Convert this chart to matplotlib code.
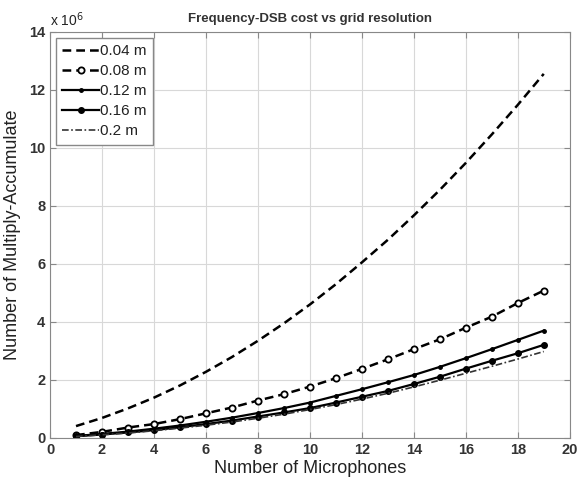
import numpy as np
from matplotlib import pyplot as plt

plt.rcParams['font.family'] = ['Liberation Sans', 'DejaVu Sans']

mics = np.arange(1, 20)

# multiply-accumulate counts (x 10^6) for each grid resolution
mac_004 = [0.41, 0.69, 1.02, 1.39, 1.81, 2.28, 2.79, 3.35, 3.95, 4.60,
           5.30, 6.05, 6.83, 7.67, 8.55, 9.48, 10.46, 11.48, 12.55]
mac_008 = [0.10, 0.21, 0.36, 0.48, 0.65, 0.85, 1.05, 1.29, 1.51, 1.77,
           2.06, 2.38, 2.71, 3.06, 3.40, 3.80, 4.18, 4.65, 5.08]
mac_012 = [0.07, 0.14, 0.22, 0.32, 0.43, 0.56, 0.70, 0.86, 1.03, 1.22,
           1.45, 1.68, 1.92, 2.17, 2.45, 2.75, 3.06, 3.38, 3.70]
mac_016 = [0.06, 0.12, 0.19, 0.27, 0.37, 0.48, 0.60, 0.74, 0.88, 1.03,
           1.22, 1.42, 1.62, 1.86, 2.11, 2.39, 2.66, 2.92, 3.21]
mac_020 = [0.05, 0.11, 0.17, 0.25, 0.34, 0.44, 0.55, 0.68, 0.82, 0.98,
           1.15, 1.34, 1.54, 1.76, 1.99, 2.23, 2.47, 2.72, 2.98]

labels = ['0.04 m', '0.08 m', '0.12 m', '0.16 m', '0.2 m']

fig = plt.figure(figsize=(5.79, 4.83), dpi=100)
ax = fig.add_axes([0.0864, 0.0932, 0.8976, 0.841])

ax.plot(mics, np.array(mac_004) * 1e6, color='black', ls=(0, (3.5, 2)), lw=1.8,
        label=labels[0])
ax.plot(mics, np.array(mac_008) * 1e6, color='black', ls=(0, (3.5, 2)), lw=1.8,
        marker='o', ms=4.5, mfc='white', mew=1.3, label=labels[1])
ax.plot(mics, np.array(mac_012) * 1e6, color='black', ls='-', lw=1.6,
        marker='.', ms=5, label=labels[2])
ax.plot(mics, np.array(mac_016) * 1e6, color='black', ls='-', lw=1.6,
        marker='o', ms=4, label=labels[3])
ax.plot(mics, np.array(mac_020) * 1e6, color='#333333', ls=(0, (4, 1.5, 1, 1.5)),
        lw=1.2, label=labels[4])

ax.set_xlim(0, 20)
ax.set_ylim(0, 14e6)
ax.set_xticks(range(0, 21, 2))
ax.set_yticks(np.arange(0, 15e6, 2e6))
ax.set_yticklabels([str(v) for v in range(0, 15, 2)])
ax.text(0.0, 1.008, r'x 10$^6$', transform=ax.transAxes, fontsize=10,
        color='#222222', ha='left', va='bottom')

ax.grid(True, color='#d8d8d8', lw=0.8)
ax.tick_params(direction='in', top=True, right=True, labelsize=10.5,
               labelcolor='#333333', color='#888888', length=4)
for t in ax.get_xticklabels() + ax.get_yticklabels():
    t.set_fontweight('bold')
for s in ax.spines.values():
    s.set_color('#888888')

ax.set_title('Frequency-DSB cost vs grid resolution', fontsize=9.5,
             fontweight='bold', color='#333333', pad=7)
ax.set_xlabel('Number of Microphones', fontsize=13, color='#222222', labelpad=2)
ax.set_ylabel('Number of Multiply-Accumulate', fontsize=13, color='#222222',
              labelpad=6)

leg = ax.legend(loc='upper left', fontsize=11, handlelength=2.4,
                handletextpad=0.1, borderaxespad=0.4, labelspacing=0.4,
                fancybox=False, framealpha=1)
leg.get_frame().set_edgecolor('#888888')
for t in leg.get_texts():
    t.set_color('#222222')

fig.savefig('out.png', dpi=100)
